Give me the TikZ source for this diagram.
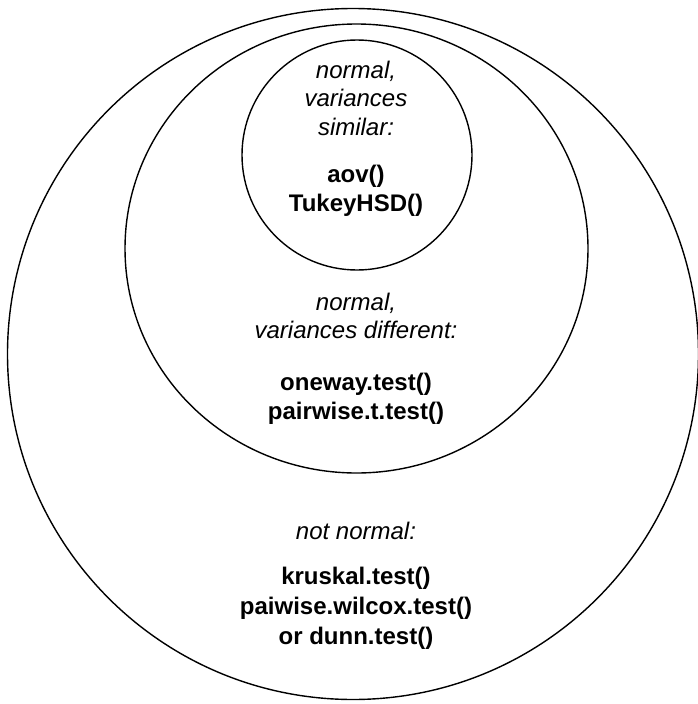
\documentclass[tikz,border=0pt]{standalone}
\usepackage{fontspec}
\setmainfont{Liberation Sans}
\begin{document}
\begin{tikzpicture}[x=1pt,y=-1pt,
  ring/.style={draw=black,line width=1.4pt},
  cond/.style={align=center,inner sep=0pt,font=\fontsize{24}{28.5}\selectfont\itshape},
  func/.style={align=center,inner sep=0pt,font=\fontsize{24}{28.5}\selectfont\bfseries}]
  \useasboundingbox (0,0) rectangle (698,704);
  % nested sets of test conditions
  \draw[ring] (353,354) circle [radius=345.5];
  \draw[ring] (356.5,248.5) ellipse [x radius=231.5, y radius=224.5];
  \draw[ring] (357,155) circle [radius=115];
  % innermost set
  \node[cond] (simcond) at (356,98) {normal,\\variances\\similar:};
  \node[func] (simfunc) at (356,191) {aov()\\TukeyHSD()};
  % middle set
  \node[cond] (difcond) at (356,316) {normal,\\variances different:};
  \node[func] (diffunc) at (356,399) {oneway.test()\\pairwise.t.test()};
  % outer set
  \node[cond] (npcond) at (356,531) {not normal:};
  \node[func,font=\fontsize{24}{30}\selectfont\bfseries] (npfunc) at (356,608)
    {kruskal.test()\\paiwise.wilcox.test()\\or dunn.test()};
\end{tikzpicture}
\end{document}
